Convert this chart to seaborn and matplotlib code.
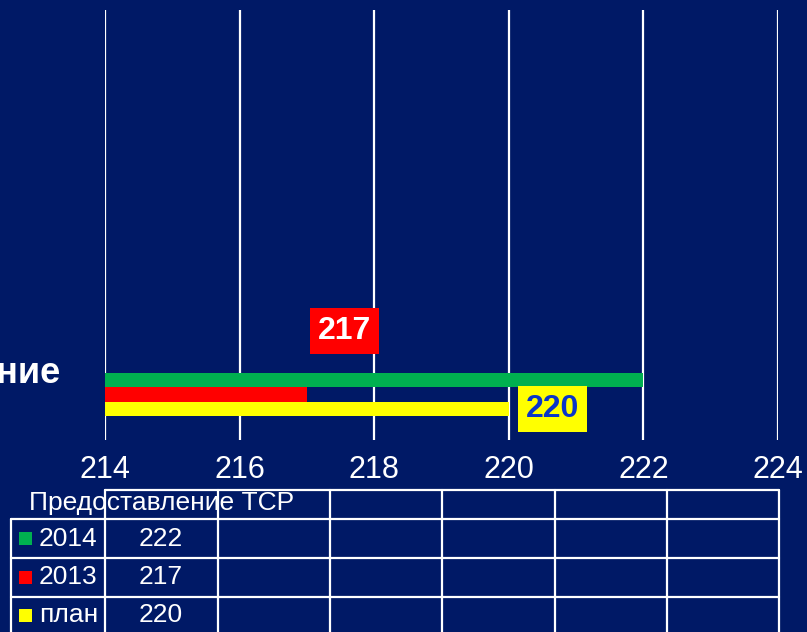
import matplotlib
matplotlib.use("Agg")
import matplotlib.pyplot as plt
import seaborn as sns
import pandas as pd
from matplotlib.lines import Line2D
from matplotlib.patches import Rectangle

# ---- data ----
categories = ["Предоставление ТСР"]
series = ["2014", "2013", "план"]
values = [222, 217, 220]
colors = ["#00B050", "#FF0000", "#FFFF00"]
xticks = [214, 216, 218, 220, 222, 224]
labelled = ["2013", "план"]

BG = "#001966"
W, H = 807, 632

sns.set_theme(style="white")
plt.rcParams["font.family"] = ["Liberation Sans", "DejaVu Sans"]

df = pd.DataFrame({"category": categories * len(series),
                   "series": series,
                   "value": values})

fig = plt.figure(figsize=(W / 100, H / 100), dpi=100, facecolor=BG)
ax = fig.add_axes([105 / W, 1 - 440 / H, 673 / W, 430 / H])
ax.set_facecolor(BG)

sns.barplot(data=df, x="value", y="category", hue="series", hue_order=series,
            palette=colors, orient="h", width=0.8, ax=ax, legend=False,
            saturation=1, edgecolor="none", linewidth=0)

ax.set_xlim(xticks[0], xticks[-1])
ax.set_ylim(0.846, -7.153)
ax.set_xticks(xticks)
ax.grid(axis="x", color="white", lw=1.6)
ax.grid(axis="y", visible=False)
ax.set_axisbelow(True)
for s in ax.spines.values():
    s.set_visible(False)
ax.set_xlabel("")
ax.set_ylabel("")
ax.tick_params(axis="x", length=0, pad=11, labelsize=22, labelcolor="white")
ax.tick_params(axis="y", length=0, pad=32, labelsize=26, labelcolor="white")
ax.set_yticks([0])
ax.set_yticklabels([c.replace(" ", "\n") for c in categories], fontweight="bold",
                   multialignment="center", linespacing=1.25, va="center")

# value labels
px2pt = 72 / 100
for i, (s, v) in enumerate(zip(series, values)):
    if s not in labelled:
        continue
    bar = ax.containers[i][0]
    yc = bar.get_y() + bar.get_height() / 2
    if s == "2013":
        ax.annotate(str(v), xy=(v, yc), xytext=(11 * px2pt, 64 * px2pt),
                    textcoords="offset points", ha="left", va="center",
                    fontsize=23, fontweight="bold", color="white",
                    bbox=dict(boxstyle="square,pad=0.25", fc=colors[i], ec="none"),
                    annotation_clip=False)
    else:
        ax.annotate(str(v), xy=(v, yc), xytext=(17 * px2pt, 0),
                    textcoords="offset points", ha="left", va="center",
                    fontsize=23, fontweight="bold", color="#0A35C8",
                    bbox=dict(boxstyle="square,pad=0.25", fc=colors[i], ec="none"),
                    annotation_clip=False)

# ---- data table ----
def fx(x):
    return x / W

def fy(y):
    return 1 - y / H

def hline(x0, x1, y):
    fig.add_artist(Line2D([fx(x0), fx(x1)], [fy(y), fy(y)], transform=fig.transFigure,
                          color="white", lw=1.6))

def vline(x, y0, y1):
    fig.add_artist(Line2D([fx(x), fx(x)], [fy(y0), fy(y1)], transform=fig.transFigure,
                          color="white", lw=1.6))

col_x = [105, 218, 330, 442, 555, 667, 779]
row_y = [490, 519, 558, 597, 634]
hline(105, 779, 490)
for y in row_y[1:-1]:
    hline(11, 779, y)
for x in col_x:
    vline(x, 490, 640)
vline(11, 519, 640)

fig.text(fx(162), fy(503), categories[0], ha="center", va="center",
         fontsize=19, color="white")
for i, (s, v) in enumerate(zip(series, values)):
    yc = (row_y[i + 1] + row_y[i + 2]) / 2
    fig.add_artist(Rectangle((fx(19), fy(yc + 6.5)), 13 / W, 13 / H,
                             transform=fig.transFigure, fc=colors[i], ec="none"))
    fig.text(fx(39), fy(yc), s, ha="left", va="center", fontsize=19, color="white")
    fig.text(fx(161), fy(yc), str(v), ha="center", va="center", fontsize=19, color="white")

fig.savefig("out.png", dpi=100, facecolor=BG)
